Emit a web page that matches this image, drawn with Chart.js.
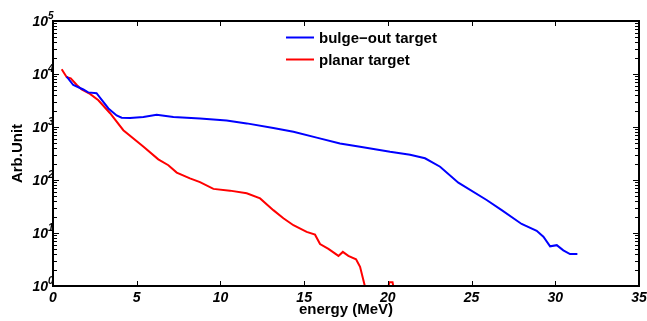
<!DOCTYPE html>
<html>
<head>
<meta charset="utf-8">
<script src="https://cdn.jsdelivr.net/npm/chart.js@4"></script>
<style>
  html, body { margin: 0; padding: 0; background: #fff; }
</style>
</head>
<body>
<canvas id="chart" width="647" height="321"></canvas>
<script>
// spectra: energy (MeV) vs counts (arb. units)
const bulgeEnergy = [0.82, 1.21, 1.81, 2.1, 2.6, 3.31, 3.8, 4.1, 4.6, 5.4, 6.19, 7.19, 8.78, 10.37, 11.57,
    13.16, 14.36, 15.75, 17.14, 18.34, 20.13, 21.33, 22.22, 23.12, 24.21, 25.9, 26.8, 27.99, 28.89,
    29.29, 29.69, 30.09, 30.48, 30.88, 31.32];
const bulgeCounts = [8900, 6200, 5100, 4500, 4350, 2240, 1650, 1500, 1480, 1550, 1700, 1550, 1450, 1320, 1170,
    955, 810, 630, 490, 425, 340, 300, 257, 178, 89, 42, 27, 14.8, 11,
    8.5, 5.6, 5.9, 4.7, 4.0, 4.0];

const planarEnergy = [0.52, 0.82, 1.06, 1.42, 1.71, 2.21, 2.71, 3.41, 4.2, 5.39, 6.29, 6.89, 7.39, 8.18, 8.78,
    9.58, 10.57, 11.57, 12.37, 13.16, 13.76, 14.36, 15.15, 15.65, 15.95, 16.45, 17.05, 17.31, 17.64,
    18.1, 18.34, 18.8, 19.95, 20.08, 20.28, 20.45];
const planarCounts = [12300, 8700, 8300, 6200, 5100, 4200, 3200, 1820, 870, 430, 245, 190, 138, 107, 91,
    68, 63, 56, 45, 27, 19, 14, 10.5, 9.3, 6.2, 5.0, 3.7, 4.4, 3.7,
    3.2, 2.3, 0.6, 0.6, 1.18, 1.18, 0.6];

const seriesNames = ['bulge\u2212out target', 'planar target'];
const seriesColors = ['#0000ff', '#ff0000'];
const xTicks = [0, 5, 10, 15, 20, 25, 30, 35];
const decades = [0, 1, 2, 3, 4, 5];

const FONT = '"Liberation Sans", Arial, Helvetica, sans-serif';

function toPoints(xs, ys) {
    return xs.map((x, i) => ({ x: x, y: ys[i] }));
}

// box, inward ticks, power-of-ten labels and the legend
const framePlugin = {
    id: 'frame',
    afterDraw(c) {
        const ctx = c.ctx;
        const a = c.chartArea;
        const xs = c.scales.x, ys = c.scales.y;
        ctx.save();
        ctx.strokeStyle = '#000';

        ctx.lineWidth = 1;
        ctx.beginPath();
        decades.forEach(k => {
            if (k < 5) {
                for (let m = 2; m <= 9; m++) {
                    const py = Math.round(ys.getPixelForValue(m * Math.pow(10, k))) + 0.5;
                    ctx.moveTo(a.left, py); ctx.lineTo(a.left + 4, py);
                    ctx.moveTo(a.right, py); ctx.lineTo(a.right - 4, py);
                }
            }
            const py = Math.round(ys.getPixelForValue(Math.pow(10, k))) + 0.5;
            ctx.moveTo(a.left, py); ctx.lineTo(a.left + 6, py);
            ctx.moveTo(a.right, py); ctx.lineTo(a.right - 6, py);
        });
        xTicks.forEach(v => {
            const px = Math.round(xs.getPixelForValue(v)) + 0.5;
            ctx.moveTo(px, a.top); ctx.lineTo(px, a.top + 5);
            ctx.moveTo(px, a.bottom); ctx.lineTo(px, a.bottom - 5);
        });
        ctx.stroke();

        ctx.lineWidth = 2;
        ctx.strokeRect(a.left, a.top, a.right - a.left, a.bottom - a.top);

        // y labels as 10 with raised exponent
        ctx.fillStyle = '#000';
        decades.forEach(k => {
            const py = ys.getPixelForValue(Math.pow(10, k));
            ctx.font = 'italic bold 14px ' + FONT;
            ctx.textAlign = 'right';
            ctx.textBaseline = 'middle';
            ctx.fillText('10', 48, py + 1);
            ctx.font = 'italic bold 10px ' + FONT;
            ctx.textAlign = 'left';
            ctx.textBaseline = 'alphabetic';
            ctx.fillText(String(k), 48, py - 2);
        });

        // legend
        ctx.font = 'bold 15px ' + FONT;
        ctx.textAlign = 'left';
        ctx.textBaseline = 'middle';
        c.data.datasets.forEach((ds, i) => {
            const ly = 37.5 + i * 22;
            ctx.strokeStyle = ds.borderColor;
            ctx.lineWidth = 2;
            ctx.beginPath();
            ctx.moveTo(286, ly); ctx.lineTo(314, ly);
            ctx.stroke();
            ctx.fillStyle = '#000';
            ctx.fillText(ds.label, 319, ly + 1);
        });
        ctx.restore();
    }
};

new Chart(document.getElementById('chart'), {
    type: 'line',
    data: {
        datasets: [
            { label: seriesNames[0], data: toPoints(bulgeEnergy, bulgeCounts), borderColor: seriesColors[0] },
            { label: seriesNames[1], data: toPoints(planarEnergy, planarCounts), borderColor: seriesColors[1] }
        ]
    },
    options: {
        responsive: false,
        animation: false,
        devicePixelRatio: 1,
        layout: { padding: { top: 21, right: 8, left: 0, bottom: 0 } },
        elements: {
            line: { borderWidth: 2, tension: 0 },
            point: { radius: 0 }
        },
        plugins: { legend: { display: false }, tooltip: { enabled: false } },
        scales: {
            x: {
                type: 'linear', min: 0, max: 35,
                afterBuildTicks: s => { s.ticks = xTicks.map(v => ({ value: v })); },
                afterFit: s => { s.height = 35; s.paddingLeft = 0; s.paddingRight = 0; },
                grid: { display: false, drawTicks: false },
                border: { display: false },
                ticks: { color: '#000', padding: 4, maxRotation: 0, font: { family: FONT, size: 14, style: 'italic', weight: 'bold' } },
                title: { display: true, text: 'energy (MeV)', color: '#000', padding: { top: 0, bottom: 2 }, font: { family: FONT, size: 15, weight: 'bold' } }
            },
            y: {
                type: 'logarithmic', min: 1, max: 100000,
                afterFit: s => { s.width = 53; s.paddingTop = 0; s.paddingBottom = 0; },
                grid: { display: false, drawTicks: false },
                border: { display: false },
                ticks: { display: false },
                title: { display: true, text: 'Arb.Unit', color: '#000', padding: { top: 9, bottom: 0 }, font: { family: FONT, size: 15, weight: 'bold' } }
            }
        }
    },
    plugins: [framePlugin]
});
</script>
</body>
</html>
